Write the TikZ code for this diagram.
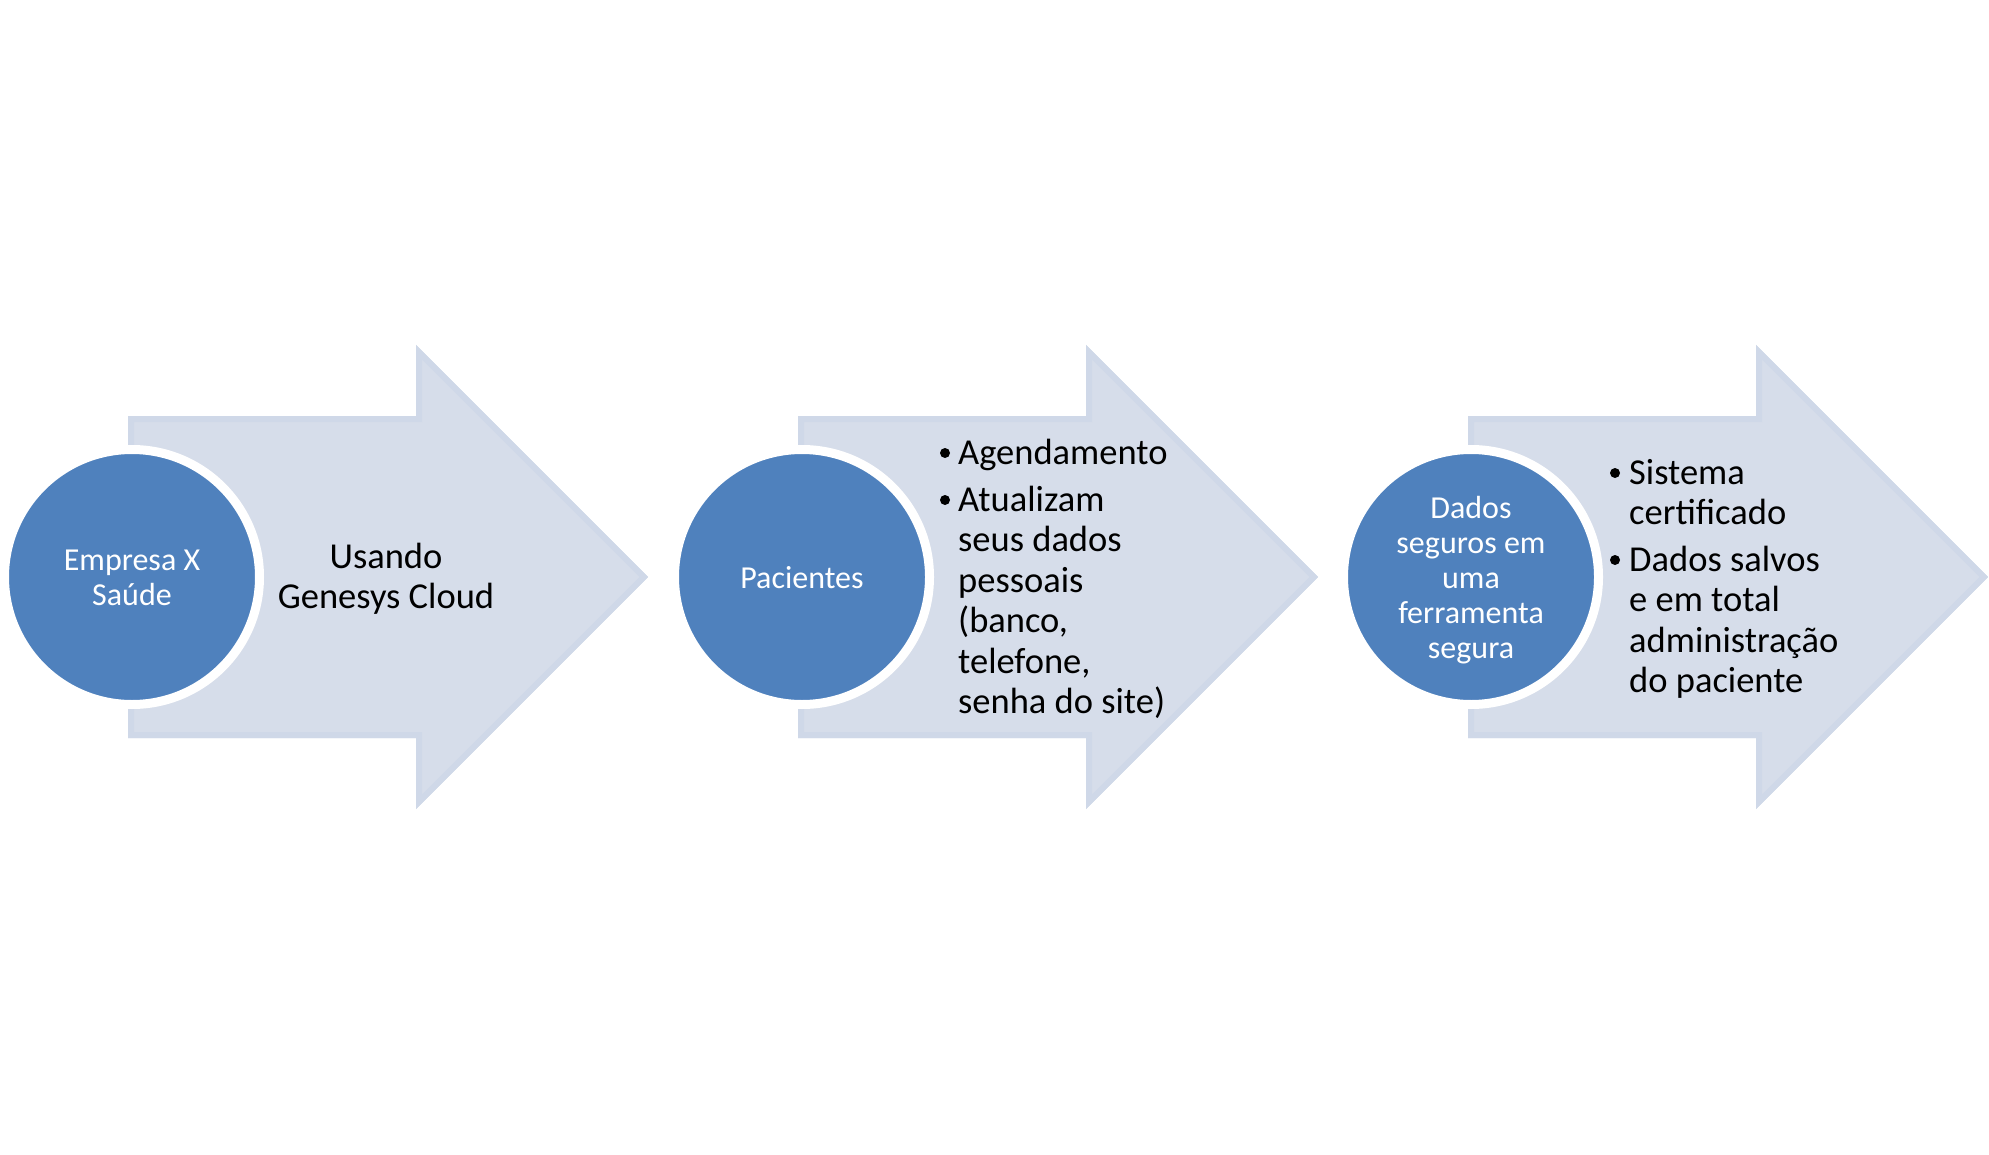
\documentclass[tikz,border=0pt]{standalone}
\usepackage{fontspec}
\setmainfont{Carlito}
\definecolor{cblue}{HTML}{4F81BD}
\definecolor{afill}{HTML}{D6DDEA}
\definecolor{aband}{HTML}{CFD8E8}
\newcommand\chevarrow[1]{%
  \begin{scope}[xshift=#1pt]
    \begin{scope}
      \path[clip] (128,416) -- (416,416) -- (416,345) -- (648,577) -- (416,809) -- (416,738) -- (128,738) -- cycle;
      \fill[afill] (120,340) rectangle (660,815);
      \draw[aband, line width=12pt, line join=miter] (128,416) -- (416,416) -- (416,345) -- (648,577) -- (416,809) -- (416,738) -- (128,738) -- cycle;
    \end{scope}
  \end{scope}}
\tikzset{
  circ/.style={circle, fill=cblue, draw=white, line width=9pt, minimum size=255pt, inner sep=0pt},
  ctxt/.style={text=white, font=\fontsize{32}{35}\selectfont, inner sep=0pt, anchor=base},
  atxt/.style={font=\fontsize{36.5}{40.5}\selectfont, inner sep=0pt, anchor=base west},
  ctrtxt/.style={font=\fontsize{36.5}{40.5}\selectfont, inner sep=0pt, anchor=base},
  bul/.style={circle, fill=black, minimum size=10pt, inner sep=0pt},
}
\begin{document}
\begin{tikzpicture}[x=1pt, y=-1pt]
\useasboundingbox (0,0) rectangle (1989,1155);
% arrows
\chevarrow{0}
\chevarrow{670}
\chevarrow{1340}
% circles
\node[circ] (c1) at (132,577) {};
\node[circ] (c2) at (802,577) {};
\node[circ] (c3) at (1471,577) {};
% circle texts
\node[ctxt] (t1) at (132,570) {\parbox[t]{240pt}{\centering Empresa X\\Saúde}};
\node[ctxt] (t2) at (802,588) {\parbox[t]{240pt}{\centering Pacientes}};
\node[ctxt] (t3) at (1471,518) {\parbox[t]{240pt}{\centering Dados\\seguros em\\uma\\ferramenta\\segura}};
% arrow 1 text
\node[ctrtxt] (u1) at (386,568) {\parbox[t]{300pt}{\centering Usando\\Genesys Cloud}};
% arrow 2 bullets
\node[bul] (b21) at (945,453) {};
\node[atxt] (i21) at (958,464) {\parbox[t]{300pt}{\raggedright Agendamento}};
\node[bul] (b22) at (945,500) {};
\node[atxt] (i22) at (958,511) {\parbox[t]{300pt}{\raggedright Atualizam\\seus dados\\pessoais\\(banco,\\telefone,\\senha do site)}};
% arrow 3 bullets
\node[bul] (b31) at (1615,473) {};
\node[atxt] (i31) at (1629,484) {\parbox[t]{300pt}{\raggedright Sistema\\certificado}};
\node[bul] (b32) at (1615,560) {};
\node[atxt] (i32) at (1629,571) {\parbox[t]{300pt}{\raggedright Dados salvos\\e em total\\administração\\do paciente}};
\end{tikzpicture}
\end{document}
